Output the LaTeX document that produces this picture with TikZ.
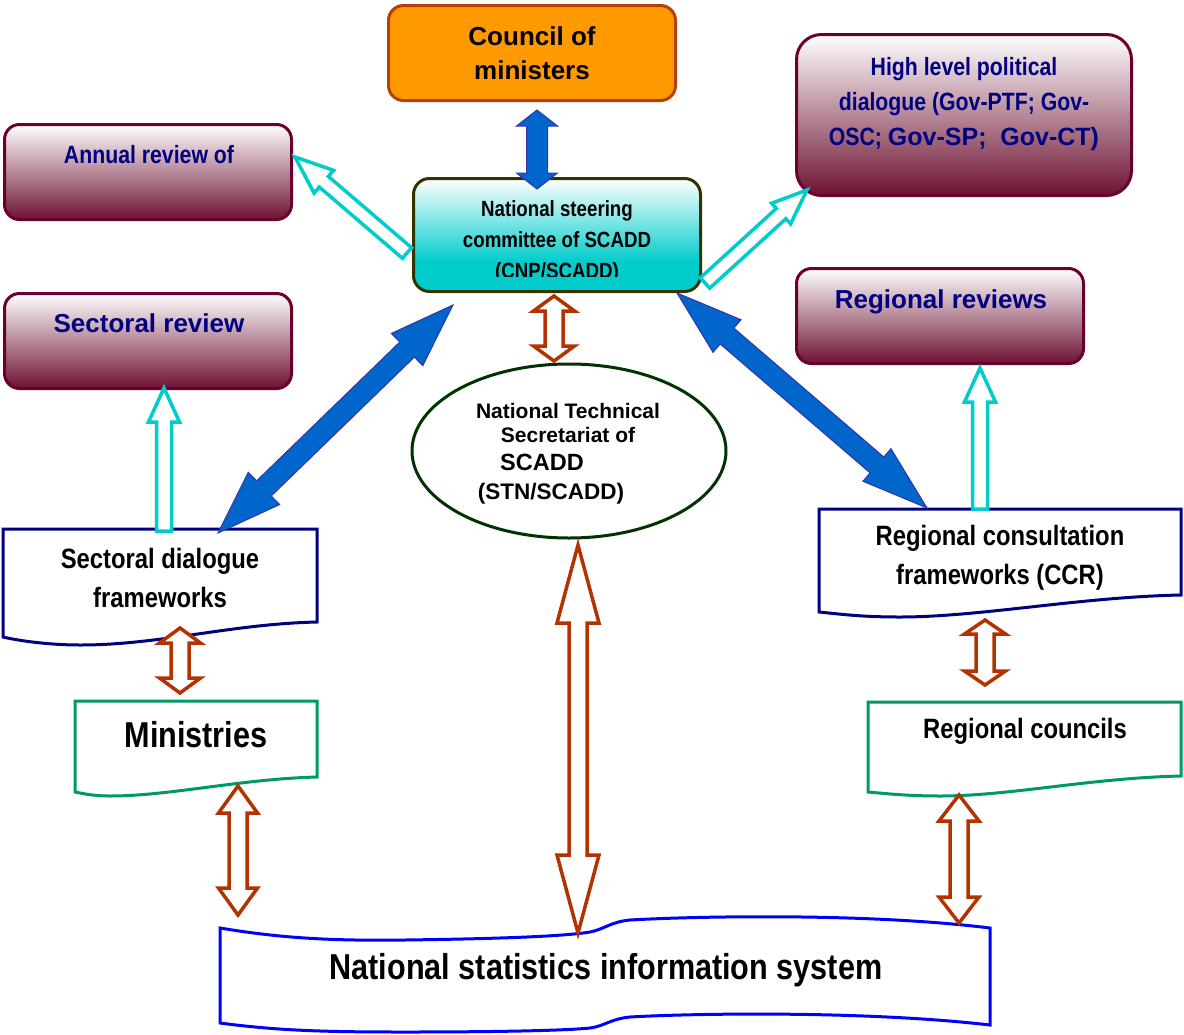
\documentclass[tikz,border=0pt]{standalone}
\usepackage{fontspec}
\setmainfont{Liberation Sans}
\newfontfamily\narrowf[FakeStretch=0.85]{Liberation Sans}
\usetikzlibrary{calc,shapes.geometric}

\definecolor{orangeF}{HTML}{FF9900}
\definecolor{orangeB}{HTML}{B5400C}
\definecolor{nsccyan}{HTML}{00CCCC}
\definecolor{oliveB}{HTML}{333300}
\definecolor{maroonB}{HTML}{6B0030}
\definecolor{maroonF}{HTML}{6E1232}
\definecolor{navyT}{HTML}{000080}
\definecolor{blueA}{HTML}{0066CC}
\definecolor{blueAB}{HTML}{3333AA}
\definecolor{cyanA}{HTML}{00CCCC}
\definecolor{brownA}{HTML}{B33300}
\definecolor{docnavy}{HTML}{000080}
\definecolor{docgreen}{HTML}{009966}
\definecolor{nsisblue}{HTML}{0000FF}
\definecolor{ellgreen}{HTML}{003300}

\pgfdeclareverticalshading{nscshade}{100bp}{color(0bp)=(nsccyan); color(25bp)=(nsccyan); color(38bp)=(nsccyan); color(75bp)=(white); color(100bp)=(white)}

% direction helper
\newcommand\getdir[2]{%
  \path let \p1=(#1), \p2=(#2) in \pgfextra{%
    \pgfmathsetmacro\tmpA{atan2(\y2-\y1,\x2-\x1)}%
    \pgfmathsetmacro\tmpL{veclen(\x2-\x1,\y2-\y1)}%
    \xdef\bAang{\tmpA}\xdef\bAlen{\tmpL}\xdef\bAx{\x1}\xdef\bAy{\y1}};}
% double block arrow: style, from, to, shaft half, head half, head length
\newcommand\dblarrow[6]{%
  \getdir{#2}{#3}%
  \draw[#1, shift={(\bAx,\bAy)}, rotate=\bAang]
    (0,0) -- (#6,#5) -- (#6,#4) -- (\bAlen-#6,#4) -- (\bAlen-#6,#5) -- (\bAlen,0)
    -- (\bAlen-#6,-#5) -- (\bAlen-#6,-#4) -- (#6,-#4) -- (#6,-#5) -- cycle;}
% single block arrow (head at "to")
\newcommand\sglarrow[6]{%
  \getdir{#2}{#3}%
  \draw[#1, shift={(\bAx,\bAy)}, rotate=\bAang]
    (0,#4) -- (\bAlen-#6,#4) -- (\bAlen-#6,#5) -- (\bAlen,0)
    -- (\bAlen-#6,-#5) -- (\bAlen-#6,-#4) -- (0,-#4) -- cycle;}

\tikzset{
  mbox/.style={draw=maroonB, line width=3pt, rounded corners=15pt, top color=white,
    bottom color=maroonF, inner sep=0pt},
  mtext/.style={text=navyT, inner sep=0pt, align=center},
  bluearrow/.style={fill=blueA, draw=blueAB, line width=1pt},
  cyanarrow/.style={fill=white, draw=cyanA, line width=3.5pt},
  brownarrow/.style={fill=white, draw=brownA, line width=3.5pt},
  docshape/.style={fill=white, line width=3pt},
  doctext/.style={inner sep=0pt, align=center, font=\narrowf\bfseries},
}

\begin{document}
\begin{tikzpicture}[x=1pt,y=-1pt]
\useasboundingbox (0,0) rectangle (1184,1034);

% ---- Council of ministers
\node[draw=orangeB, fill=orangeF, line width=3pt, rounded corners=15pt,
  minimum width=287pt, minimum height=95pt, align=center,
  font={\bfseries\fontsize{26}{34}\selectfont}] (council) at (532,53) {Council of\\ministers};

% ---- National steering committee
\node[draw=oliveB, line width=3pt, rounded corners=16pt, shading=nscshade,
  minimum width=287pt, minimum height=113pt] (nsc) at (557,235) {};
\begin{scope}
  \clip (412,177) rectangle (702,276);
  \node[align=center, inner sep=0pt, font={\narrowf\bfseries\fontsize{22}{31}\selectfont}]
    (nscT) at (557,242) {National steering\\committee of SCADD\\(CNP/SCADD)};
\end{scope}

% ---- maroon boxes
\node[mbox, minimum width=287pt, minimum height=95pt] (annual) at (148,172) {};
\node[mtext, font={\narrowf\bfseries\fontsize{25}{30}\selectfont}] (annualT) at (149,155) {Annual review of};

\node[mbox, minimum width=287pt, minimum height=95pt] (secrev) at (148,341) {};
\node[mtext, font={\bfseries\fontsize{26}{30}\selectfont}] (secrevT) at (149,323) {Sectoral review};

\node[mbox, rounded corners=25pt, minimum width=335pt, minimum height=161pt] (high) at (964,115) {};
\node[mtext, font={\narrowf\bfseries\fontsize{25}{35}\selectfont}] (highT) at (964,104)
  {High level political\\dialogue (Gov-PTF; Gov-\\OSC; {\bfseries\fontsize{25}{35}\selectfont\rmfamily Gov-SP;\ \ Gov-CT)}};

\node[mbox, minimum width=287pt, minimum height=95pt] (regrev) at (940,316) {};
\node[mtext, font={\bfseries\fontsize{26}{30}\selectfont}] (regrevT) at (941,302) {Regional reviews};

% ---- ellipse
\node[ellipse, draw=ellgreen, line width=3pt, fill=white, minimum width=314pt,
  minimum height=174pt, inner sep=0pt] (stn) at (569,451) {};
\node[inner sep=0pt, font={\bfseries\fontsize{21}{25}\selectfont}] (stn1) at (568,411) {National Technical};
\node[inner sep=0pt, font={\bfseries\fontsize{21}{25}\selectfont}] (stn2) at (568,435) {Secretariat of};
\node[inner sep=0pt, font={\bfseries\fontsize{23.5}{25}\selectfont}] (stn3) at (542,462) {SCADD};
\node[inner sep=0pt, font={\bfseries\fontsize{22.5}{25}\selectfont}] (stn4) at (551,494) {(STN/SCADD)};

% ---- document shapes
\draw[docshape, draw=docnavy] (3,529) -- (317,529) -- (317,622)
  .. controls (230,624) and (160,645) .. (80,645) .. controls (50,645) and (20,641) .. (3,637) -- cycle;
\node[doctext, font={\narrowf\bfseries\fontsize{28}{39}\selectfont}] (sdfT) at (160,578)
  {Sectoral dialogue\\frameworks};

\draw[docshape, draw=docgreen] (75,701) -- (317,701) -- (317,777)
  .. controls (240,779) and (170,796) .. (110,796) .. controls (95,796) and (85,794) .. (75,792) -- cycle;
\node[doctext, font={\narrowf\bfseries\fontsize{36}{40}\selectfont}] (minT) at (196,735) {Ministries};

\draw[docshape, draw=docnavy] (819,509) -- (1181,509) -- (1181,595)
  .. controls (1080,597) and (980,617) .. (900,617) .. controls (860,617) and (840,614) .. (819,612) -- cycle;
\node[doctext, font={\narrowf\bfseries\fontsize{28}{39}\selectfont}] (rcfT) at (1000,558)
  {Regional consultation\\frameworks (CCR)};

\draw[docshape, draw=docgreen] (868,702) -- (1181,702) -- (1181,776)
  .. controls (1090,778) and (1010,796) .. (940,796) .. controls (910,796) and (890,794) .. (868,792) -- cycle;
\node[doctext, font={\narrowf\bfseries\fontsize{28}{39}\selectfont}] (rcT) at (1025,731) {Regional councils};

\draw[docshape, draw=nsisblue] (220,928)
  .. controls (280,938) and (330,941) .. (405,940)
  .. controls (480,939) and (560,937) .. (590,932)
  .. controls (605,929) and (610,922) .. (630,920)
  .. controls (700,916) and (870,913) .. (990,928)
  -- (990,1025)
  .. controls (870,1011) and (700,1013) .. (630,1017)
  .. controls (610,1019) and (605,1026) .. (590,1028)
  .. controls (560,1031) and (480,1032) .. (405,1032)
  .. controls (330,1032) and (280,1031) .. (220,1023) -- cycle;
\node[doctext, font={\narrowf\bfseries\fontsize{36}{40}\selectfont}] (nsisT) at (606,970)
  {National statistics information system};

% ---- named end points
\coordinate (cA) at (537,110);  \coordinate (cB) at (537,189);
\coordinate (lA) at (453,305);  \coordinate (lB) at (218,533);
\coordinate (rA) at (677,293);  \coordinate (rB) at (927,508);
\coordinate (anA) at (407,253); \coordinate (anB) at (295,157);
\coordinate (hiA) at (705,283); \coordinate (hiB) at (807,190);
\coordinate (srA) at (164,531); \coordinate (srB) at (164,388);
\coordinate (rrA) at (980,509); \coordinate (rrB) at (980,368);
\coordinate (b1A) at (554,296); \coordinate (b1B) at (554,361);
\coordinate (b2A) at (578,545); \coordinate (b2B) at (578,933);
\coordinate (b3A) at (180,628); \coordinate (b3B) at (180,693);
\coordinate (b4A) at (238,786); \coordinate (b4B) at (238,915);
\coordinate (b5A) at (985,620); \coordinate (b5B) at (985,685);
\coordinate (b6A) at (959,795); \coordinate (b6B) at (959,923);

% ---- blue arrows
\dblarrow{bluearrow}{cA}{cB}{10.5}{20.5}{16}
\dblarrow{bluearrow}{lA}{lB}{10.5}{22.5}{64}
\dblarrow{bluearrow}{rA}{rB}{10.5}{21.5}{66}

% ---- cyan arrows
\sglarrow{cyanarrow}{anA}{anB}{7}{15}{38}
\sglarrow{cyanarrow}{hiA}{hiB}{7}{14}{35}
\sglarrow{cyanarrow}{srA}{srB}{7.5}{15.5}{34}
\sglarrow{cyanarrow}{rrA}{rrB}{7.5}{15.5}{34}

% ---- brown arrows
\dblarrow{brownarrow}{b1A}{b1B}{9}{20.5}{15}
\dblarrow{brownarrow}{b2A}{b2B}{9}{21}{78}
\dblarrow{brownarrow}{b3A}{b3B}{9}{20.5}{15}
\dblarrow{brownarrow}{b4A}{b4B}{9}{19.5}{27}
\dblarrow{brownarrow}{b5A}{b5B}{9}{20.5}{14}
\dblarrow{brownarrow}{b6A}{b6B}{9}{20}{26}

\end{tikzpicture}
\end{document}
